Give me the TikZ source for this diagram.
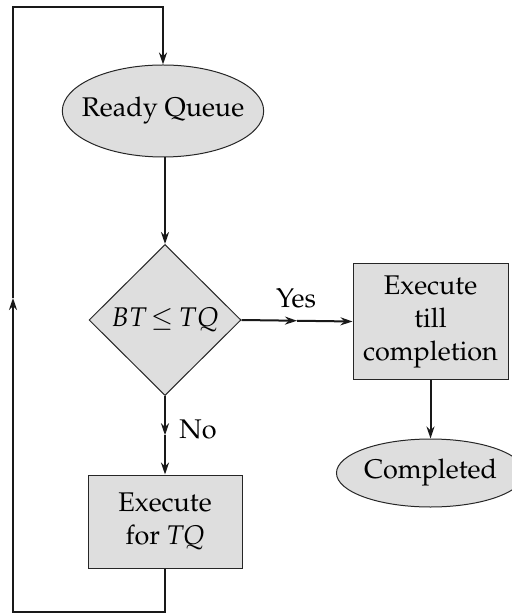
\documentclass[tikz,border=0pt]{standalone}
\usepackage[T1]{fontenc}
\usepackage{mathpazo}
\usetikzlibrary{shapes.geometric,arrows.meta,calc}
\definecolor{boxgray}{HTML}{DEDEDE}
\begin{document}
\begin{tikzpicture}[x=0.5pt,y=-0.5pt,
  every node/.style={font=\fontsize{13.5}{16.5}\selectfont},
  shapebox/.style={draw=black!85, line width=0.5pt, fill=boxgray, align=center, inner sep=0pt},
  flow/.style={line width=1pt, draw=black!90},
  conn/.style={flow, -{Stealth[length=6pt,width=4pt]}}
]
\useasboundingbox (0,0) rectangle (511,613);

\node[shapebox, ellipse, inner xsep=-5pt, minimum width=100pt, minimum height=46pt] (ready) at (163,111) {Ready Queue};
\node[shapebox, diamond, minimum width=76pt, minimum height=75.5pt] (dia) at (165,320) {$BT\,{\le}\,TQ$};
\node[shapebox, rectangle, minimum width=77.5pt, minimum height=57.5pt] (till) at (430.5,321.5) {Execute\\till\\completion};
\node[shapebox, ellipse, minimum width=85pt, minimum height=34pt] (done) at (430.5,473) {Completed};
\node[shapebox, rectangle, minimum width=77pt, minimum height=46.5pt] (forq) at (165,521.5) {Execute\\for \textit{TQ}};

\node (yes) at (296,298) {Yes};
\node (no) at (198,429) {No};

\coordinate (ym) at ($(dia.east)!0.5!(till.west)$);
\coordinate (nm) at ($(dia.south)!0.5!(forq.north)$);
\coordinate (lb) at (13,612);
\coordinate (lm) at (13,298);
\coordinate (lt) at (13,7);

\draw[conn] (ready.south -| dia.north) -- (dia.north);
\draw[conn] (dia.east) -- (ym);
\draw[conn] (ym) -- (till.west);
\draw[conn] (dia.south) -- (nm);
\draw[conn] (nm) -- (forq.north);
\draw[conn] (till.south) -- (done.north);
\draw[conn] (forq.south) |- (lb) -- (lm);
\draw[conn] (lm) -- (lt) -| (ready.north);
\end{tikzpicture}
\end{document}
